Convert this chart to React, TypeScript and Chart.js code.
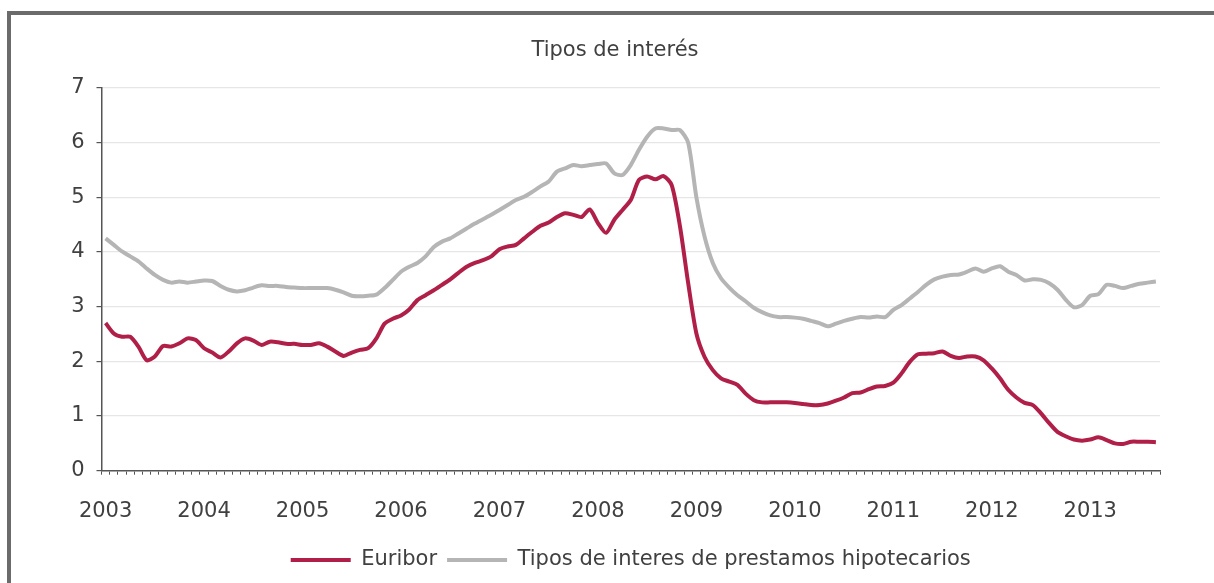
import React, { useEffect, useRef } from "react";
import { Chart, registerables } from "chart.js";

Chart.register(...registerables);

const TITLE = "Tipos de interés";
const YEARS = ["2003", "2004", "2005", "2006", "2007", "2008", "2009", "2010", "2011", "2012", "2013"];
const MONTHS = ["ene", "feb", "mar", "abr", "may", "jun", "jul", "ago", "sep", "oct", "nov", "dic"];
const N_MONTHS = 129; // enero 2003 - septiembre 2013

const SERIES_EURIBOR = "Euribor";
const SERIES_HIPOTECA = "Tipos de interes de prestamos hipotecarios";

const EURIBOR = [
  2.70, 2.51, 2.45, 2.45, 2.27, 2.02, 2.09, 2.28, 2.27, 2.33, 2.42, 2.39,
  2.24, 2.16, 2.07, 2.18, 2.33, 2.42, 2.38, 2.30, 2.36, 2.35, 2.32, 2.32,
  2.30, 2.30, 2.33, 2.27, 2.18, 2.10, 2.16, 2.21, 2.24, 2.42, 2.69, 2.78,
  2.84, 2.95, 3.12, 3.21, 3.30, 3.40, 3.50, 3.62, 3.73, 3.80, 3.85, 3.92,
  4.05, 4.10, 4.13, 4.25, 4.37, 4.48, 4.54, 4.64, 4.71, 4.68, 4.64, 4.78,
  4.53, 4.35, 4.59, 4.77, 4.95, 5.32, 5.38, 5.33, 5.39, 5.22, 4.47, 3.43,
  2.51, 2.08, 1.84, 1.69, 1.63, 1.57, 1.41, 1.29, 1.25, 1.25, 1.25, 1.25,
  1.24, 1.22, 1.20, 1.20, 1.23, 1.28, 1.34, 1.42, 1.43, 1.49, 1.54, 1.55,
  1.61, 1.78, 1.99, 2.13, 2.14, 2.15, 2.18, 2.10, 2.06, 2.09, 2.09, 2.02,
  1.87, 1.69, 1.48, 1.34, 1.24, 1.20, 1.05, 0.87, 0.71, 0.63, 0.57, 0.55,
  0.57, 0.61, 0.56, 0.50, 0.49, 0.53, 0.53, 0.53, 0.52,
];

const HIPOTECARIOS = [
  4.25, 4.13, 4.01, 3.92, 3.83, 3.70, 3.58, 3.49, 3.44, 3.46, 3.44, 3.46,
  3.48, 3.47, 3.38, 3.31, 3.28, 3.30, 3.35, 3.39, 3.38, 3.38, 3.36, 3.35,
  3.34, 3.34, 3.34, 3.34, 3.31, 3.26, 3.20, 3.19, 3.20, 3.22, 3.34, 3.49,
  3.64, 3.73, 3.80, 3.92, 4.09, 4.19, 4.25, 4.34, 4.43, 4.52, 4.60, 4.68,
  4.77, 4.86, 4.95, 5.01, 5.10, 5.20, 5.29, 5.47, 5.53, 5.59, 5.57, 5.59,
  5.61, 5.62, 5.44, 5.41, 5.59, 5.87, 6.11, 6.26, 6.26, 6.23, 6.23, 6.00,
  5.00, 4.28, 3.80, 3.52, 3.35, 3.21, 3.10, 2.98, 2.90, 2.84, 2.81, 2.81,
  2.80, 2.78, 2.74, 2.70, 2.64, 2.69, 2.74, 2.78, 2.81, 2.80, 2.82, 2.81,
  2.94, 3.03, 3.15, 3.27, 3.40, 3.50, 3.55, 3.58, 3.59, 3.64, 3.70, 3.64,
  3.70, 3.74, 3.64, 3.58, 3.48, 3.50, 3.49, 3.43, 3.31, 3.13, 2.99, 3.03,
  3.20, 3.23, 3.40, 3.38, 3.34, 3.38, 3.42, 3.44, 3.46,
];

const Y_MIN = 0;
const Y_MAX = 7;
const Y_STEP = 1;

const LABELS = Array.from({ length: N_MONTHS }, (_, i) => `${MONTHS[i % 12]} ${YEARS[Math.floor(i / 12)]}`);

const FONT = "'DejaVu Sans', sans-serif";
const TEXT = "#404040";
const AXIS = "#555555";

export default function App() {
  const ref = useRef<HTMLCanvasElement | null>(null);

  useEffect(() => {
    if (!ref.current) return;
    const chart = new Chart(ref.current, {
      type: "line",
      data: {
        labels: LABELS,
        datasets: [
          {
            label: SERIES_EURIBOR,
            data: EURIBOR,
            borderColor: "#b01f48",
            backgroundColor: "#b01f48",
            borderWidth: 4,
            pointRadius: 0,
            tension: 0.25,
            fill: false,
          },
          {
            label: SERIES_HIPOTECA,
            data: HIPOTECARIOS,
            borderColor: "#b5b5b5",
            backgroundColor: "#b5b5b5",
            borderWidth: 4,
            pointRadius: 0,
            tension: 0.25,
            fill: false,
          },
        ],
      },
      options: {
        responsive: false,
        animation: false,
        layout: { padding: { top: 20, left: 16, right: 0, bottom: 2.5 } },
        plugins: {
          tooltip: { enabled: false },
          title: {
            display: true,
            text: TITLE,
            color: TEXT,
            font: { family: FONT, size: 21, weight: "normal" },
            padding: { top: 18.4, bottom: 24.4 },
          },
          legend: {
            display: true,
            position: "bottom",
            fullSize: false,
            labels: {
              color: TEXT,
              font: { family: FONT, size: 21 },
              boxWidth: 60,
              boxHeight: 4,
              padding: 10,
              generateLabels: (c: any) =>
                (Chart.defaults.plugins.legend.labels as any)
                  .generateLabels(c)
                  .map((l: any) => ({ ...l, lineWidth: 0, fillStyle: l.strokeStyle })),
            },
          },
        },
        scales: {
          x: {
            type: "category",
            offset: true,
            grid: {
              display: true,
              offset: true,
              drawOnChartArea: false,
              drawTicks: true,
              tickLength: 4,
              color: AXIS,
              tickColor: AXIS,
              lineWidth: 1,
            },
            border: { display: true, color: AXIS, width: 1.5 },
            ticks: {
              autoSkip: false,
              maxRotation: 0,
              minRotation: 0,
              padding: 24,
              color: TEXT,
              font: { family: FONT, size: 21 },
              callback: (_v: any, i: number) => (i % 12 === 0 ? YEARS[i / 12] : ""),
            },
            afterFit: (s: any) => {
              s.height = 68.8;
            },
          },
          y: {
            min: Y_MIN,
            max: Y_MAX,
            position: "left",
            grid: {
              color: "#e6e6e6",
              lineWidth: 1.2,
              tickLength: 5,
              tickColor: AXIS,
              drawTicks: true,
            },
            border: { display: true, color: AXIS, width: 1.5 },
            ticks: {
              stepSize: Y_STEP,
              padding: 12,
              color: TEXT,
              font: { family: FONT, size: 21 },
            },
            afterFit: (s: any) => {
              s.width = 85.5;
            },
          },
          yRight: {
            position: "right",
            min: Y_MIN,
            max: Y_MAX,
            grid: { display: false, drawOnChartArea: false, drawTicks: false },
            border: { display: false },
            ticks: { display: false },
            afterFit: (s: any) => {
              s.width = 54;
            },
          },
        },
      },
    });
    return () => chart.destroy();
  }, []);

  return (
    <div style={{ position: "fixed", left: 0, top: 0, width: 1214, height: 583, background: "#fff", overflow: "hidden" }}>
      <canvas ref={ref} width={1214} height={583} style={{ position: "absolute", left: 0, top: 0, display: "block" }} />
      <div
        style={{
          position: "absolute",
          left: 7,
          top: 11,
          width: 1300,
          height: 700,
          borderTop: "4px solid #6b6b6b",
          borderLeft: "4px solid #6b6b6b",
          pointerEvents: "none",
        }}
      />
    </div>
  );
}
